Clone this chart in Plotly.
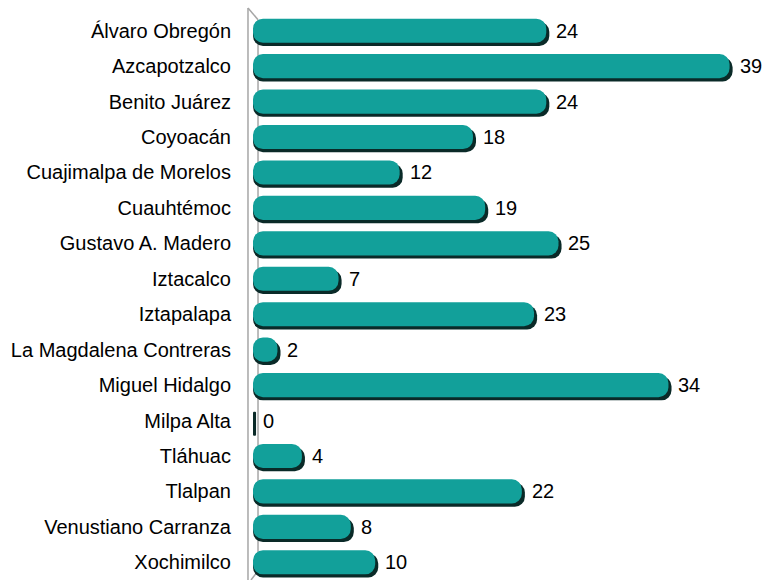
import plotly.graph_objects as go

alcaldias = ['Álvaro Obregón', 'Azcapotzalco', 'Benito Juárez', 'Coyoacán',
             'Cuajimalpa de Morelos', 'Cuauhtémoc', 'Gustavo A. Madero', 'Iztacalco',
             'Iztapalapa', 'La Magdalena Contreras', 'Miguel Hidalgo', 'Milpa Alta',
             'Tláhuac', 'Tlalpan', 'Venustiano Carranza', 'Xochimilco']
valores = [24, 39, 24, 18, 12, 19, 25, 7, 23, 2, 34, 0, 4, 22, 8, 10]

teal = '#12A09A'
sombra = '#0A2A28'
font_fam = 'Liberation Sans, Arial, sans-serif'
xmax = 41
sh = 0.25      # shadow shift to the right
K = 100        # axis origin; the axis runs K (left) -> K - xmax (right)

# bars start at base K (left edge) and go -v, on a mirrored axis, so that the
# rounded corners end up on the left like in the original chart
fig = go.Figure()
fig.add_trace(go.Bar(
    y=alcaldias, x=[-(v + sh) for v in valores], base=K,
    orientation='h', width=0.68, offset=-0.25,
    marker=dict(color=sombra, line=dict(width=0), cornerradius=10),
    hoverinfo='skip', showlegend=False,
))
fig.add_trace(go.Bar(
    y=alcaldias, x=[-v for v in valores], base=K,
    orientation='h', width=0.68, offset=-0.34,
    marker=dict(color=teal, line=dict(width=0), cornerradius=10),
    customdata=valores, hovertemplate='%{y}: %{customdata}<extra></extra>',
    showlegend=False,
))

# value labels
for a, v in zip(alcaldias, valores):
    fig.add_annotation(x=K - v, y=a, text=str(v), showarrow=False, xanchor='left',
                       xshift=8, font=dict(size=20, color='#000000', family=font_fam))

# 3D wall on the left
wall = dict(type='line', xref='paper', yref='paper', layer='below',
            line=dict(color='#A6A6A6', width=1.5))
fig.add_shape(x0=-0.01, x1=-0.01, y0=0, y1=1.009, **wall)
fig.add_shape(x0=0.01, x1=0.01, y0=0.016, y1=0.988, **wall)
fig.add_shape(x0=-0.01, x1=0.01, y0=1.009, y1=0.988, **wall)
fig.add_shape(x0=0.01, x1=-0.004, y0=0.016, y1=0, **wall)

fig.update_layout(
    width=763, height=580,
    margin=dict(l=253, r=9, t=13, b=0),
    paper_bgcolor='white', plot_bgcolor='white',
    barmode='overlay',
    font=dict(family=font_fam, size=20, color='#000000'),
    xaxis=dict(range=[K, K - xmax], visible=False, fixedrange=True),
    yaxis=dict(autorange='reversed', showline=False, showgrid=False, zeroline=False,
               ticks='outside', ticklen=17, tickcolor='rgba(0,0,0,0)',
               tickfont=dict(size=20, color='#000000'), fixedrange=True),
)

fig.write_html("out.html", config={'displayModeBar': False},
               post_script="document.body.style.margin='0';")
